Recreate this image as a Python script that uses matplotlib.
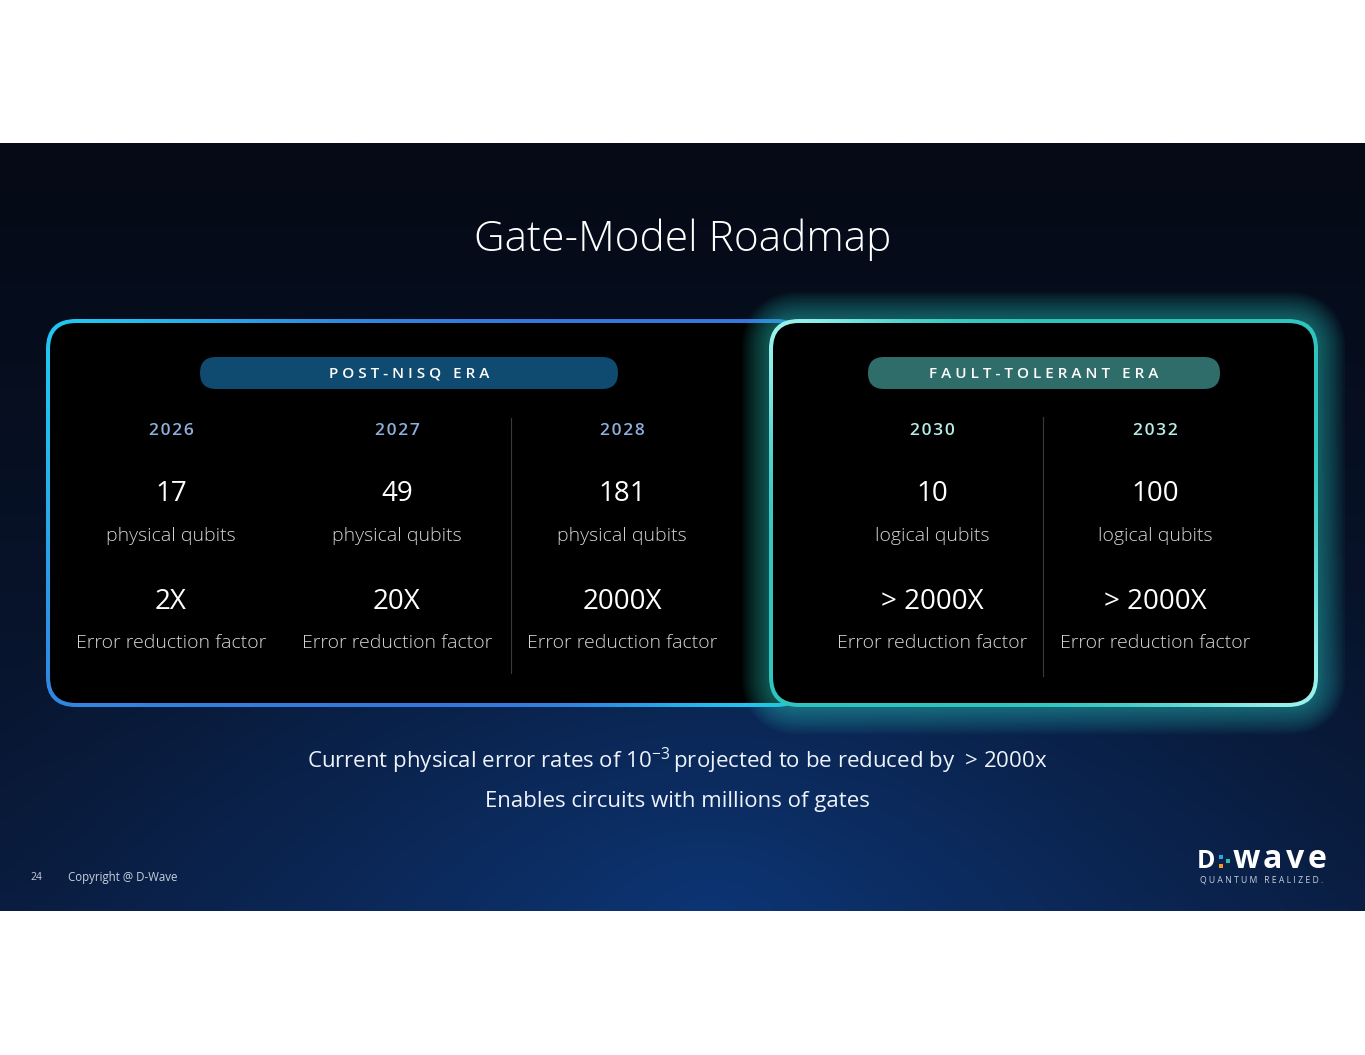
import numpy as np
import matplotlib
matplotlib.use("Agg")
import matplotlib.pyplot as plt
from matplotlib.patches import FancyBboxPatch, Rectangle
from matplotlib.colors import to_rgb

# ---- data ----
eras = ["POST-NISQ ERA", "FAULT-TOLERANT ERA"]
years = ["2026", "2027", "2028", "2030", "2032"]
qubits = [17, 49, 181, 10, 100]
qubit_kind = ["physical qubits", "physical qubits", "physical qubits",
              "logical qubits", "logical qubits"]
error_factor = ["2X", "20X", "2000X", "> 2000X", "> 2000X"]
era_of_year = [0, 0, 0, 1, 1]

title = "Gate-Model Roadmap"
note1 = "Current physical error rates of 10$^{\\mathregular{-3}}$\u2009projected to be reduced by  > 2000x"
note2 = "Enables circuits with millions of gates"
page_no = "24"
copyright_txt = "Copyright @ D-Wave"

# ---- style ----
plt.rcParams["font.family"] = ["Open Sans", "DejaVu Sans"]
plt.rcParams["mathtext.fontset"] = "custom"
plt.rcParams["mathtext.rm"] = "Open Sans"

W, H = 1365, 1055
fig = plt.figure(figsize=(W / 100, H / 100), dpi=100, facecolor="white")
ax = fig.add_axes([0, 0, 1, 1])
ax.set_xlim(0, W)
ax.set_ylim(H, 0)
ax.axis("off")

def mix(c1, c2, t):
    c1 = np.array(to_rgb(c1)); c2 = np.array(to_rgb(c2))
    t = np.clip(t, 0, 1)[..., None]
    return c1 * (1 - t) + c2 * t

# ---- slide background ----
sy0, sy1 = 143, 911
gy, gx = np.mgrid[0:1:200j, 0:1:360j]
bg = mix("#050a16", "#0a1c3e", gy ** 1.3)
r = np.sqrt(((gx - 0.52) / 0.55) ** 2 + ((gy - 1.0) / 0.8) ** 2)
glow = np.clip(1 - r, 0, 1) ** 1.1
bg = bg + glow[..., None] * (np.array(to_rgb("#0d3574")) - np.array(to_rgb("#0a1c3e")))
bg = np.clip(bg, 0, 1)
ax.imshow(bg, extent=(0, W, sy1, sy0), aspect="auto", zorder=0, interpolation="bilinear")

def rbox(x, y, w, h, rad, **kw):
    p = FancyBboxPatch((x, y), w, h, boxstyle=f"round,pad=0,rounding_size={rad}",
                       mutation_aspect=1, **kw)
    ax.add_patch(p)
    return p

# ---- left box (post-NISQ) ----
lx, ly, lw, lh = 46, 319, 760, 388
ring = rbox(lx, ly, lw, lh, 30, facecolor="none", edgecolor="none", zorder=3)
yy, xx = np.mgrid[ly:ly + lh:100j, lx:lx + lw:200j]
w_tl = np.exp(-((xx - lx) ** 2 + ((yy - ly) * 0.8) ** 2) / (2 * 170 ** 2))
w_br = np.exp(-((xx - 770) ** 2 + (yy - (ly + lh)) ** 2) / (2 * 110 ** 2))
col = mix("#3577dc", "#22c6f2", np.maximum(w_tl, w_br))
im = ax.imshow(col, extent=(lx, lx + lw, ly + lh, ly), aspect="auto", zorder=3,
               interpolation="bilinear")
im.set_clip_path(ring)
rbox(lx + 4, ly + 4, lw - 8, lh - 8, 26, facecolor="black", edgecolor="none", zorder=4)

# ---- right box (fault-tolerant) with glow ----
rx, ry, rw, rh = 769, 319, 549, 388
for i in range(12):
    rbox(rx, ry, rw, rh, 30, facecolor="none", edgecolor="#2fd0c8",
         linewidth=4 + i * 3.2, alpha=0.045, zorder=5)
ring2 = rbox(rx, ry, rw, rh, 30, facecolor="none", edgecolor="none", zorder=6)
yy, xx = np.mgrid[ry:ry + rh:100j, rx:rx + rw:200j]
w_c = np.maximum(np.exp(-((xx - rx) ** 2 + (yy - ry) ** 2) / (2 * 90 ** 2)),
                 np.exp(-((xx - rx - rw) ** 2 + (yy - ry - rh) ** 2) / (2 * 110 ** 2)))
col2 = mix("#30c4bf", "#9af2ec", w_c)
im2 = ax.imshow(col2, extent=(rx, rx + rw, ry + rh, ry), aspect="auto", zorder=6,
                interpolation="bilinear")
im2.set_clip_path(ring2)
rbox(rx + 4, ry + 4, rw - 8, rh - 8, 26, facecolor="black", edgecolor="none", zorder=7)

# ---- era pills ----
pill_pos = [(200, 618), (868, 1220)]
pill_col = ["#0f4a70", "#2e6d69"]
for k, era in enumerate(eras):
    x0, x1 = pill_pos[k]
    rbox(x0, 357, x1 - x0, 32, 16, facecolor=pill_col[k], edgecolor="none", zorder=8)
    spaced = " ".join(era)
    ax.text((x0 + x1) / 2, 374, spaced, color="white", fontsize=11, fontweight="semibold",
            ha="center", va="center", zorder=9)

# ---- columns ----
col_x = [171, 397, 622, 932, 1155]
year_col = ["#8db0dc", "#b6ece8"]
for i in range(len(years)):
    x = col_x[i]
    ax.text(x, 431, " ".join(years[i]).replace(" ", "\u200a"), color=year_col[era_of_year[i]],
            fontsize=12.5, fontweight="semibold", ha="center", va="center", zorder=9)
    ax.text(x, 494, str(qubits[i]), color="white", fontsize=20,
            ha="center", va="center", zorder=9)
    ax.text(x, 536, qubit_kind[i], color="#d6d6d6", fontsize=14, fontweight="light",
            ha="center", va="center", zorder=9)
    ax.text(x, 602, error_factor[i], color="white", fontsize=20,
            ha="center", va="center", zorder=9)
    ax.text(x, 643, "Error reduction factor", color="#d6d6d6", fontsize=14,
            fontweight="light", ha="center", va="center", zorder=9)

ax.plot([511, 511], [418, 673], color="#3a3a3a", lw=0.8, zorder=9)
ax.plot([1043, 1043], [417, 676], color="#3a3a3a", lw=0.8, zorder=9)

# ---- title and notes ----
ax.text(683, 240, title, color="white", fontsize=30.5, fontweight="light",
        ha="center", va="center", zorder=9)
ax.text(677, 761, note1, color="#eef2fa", fontsize=16, ha="center", va="center", zorder=9)
ax.text(677, 802, note2, color="#eef2fa", fontsize=16, ha="center", va="center", zorder=9)

# ---- footer ----
ax.text(30, 877, page_no, color="#c8d0dc", fontsize=7.5, ha="left", va="center", zorder=9)
ax.text(68, 877, copyright_txt, color="#c8d0dc", fontsize=8.3, ha="left", va="center", zorder=9)

# logo
ax.text(1197, 862, "D", color="white", fontsize=18, fontweight="bold",
        ha="left", va="center", zorder=9)
for (dx, dy, c) in [(1219, 857, "#2aa7e0"), (1219, 866, "#f39a2b"), (1226, 861, "#27c3b6")]:
    ax.add_patch(Rectangle((dx, dy - 2), 4, 4, facecolor=c, edgecolor="none", zorder=9))
for ch, cx in zip("wave", [1246, 1272, 1295, 1317]):
    ax.text(cx, 860, ch, color="white", fontsize=23, fontweight="bold",
            ha="center", va="center", zorder=9)
ax.text(1262, 880, "Q U A N T U M   R E A L I Z E D .", color="#c8d0dc", fontsize=6.2,
        ha="center", va="center", zorder=9)

fig.savefig("out.png", dpi=100, facecolor="white")
